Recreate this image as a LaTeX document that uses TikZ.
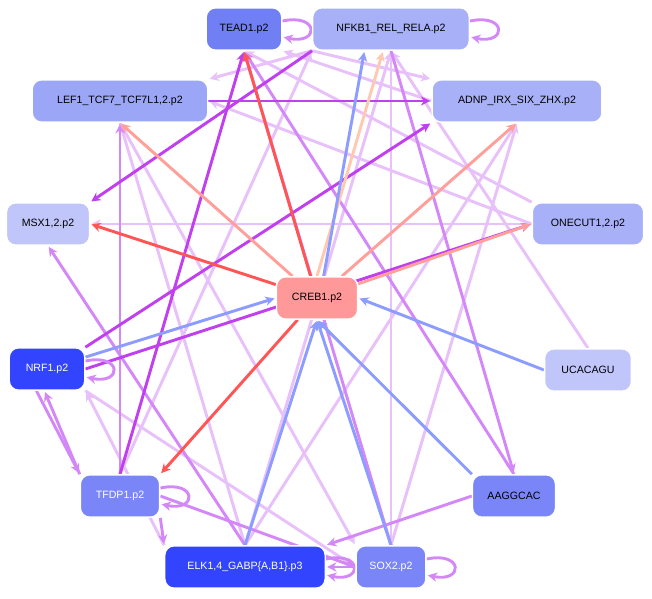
\documentclass[tikz,border=0pt]{standalone}
\usepackage{fontspec}
\setmainfont{Liberation Sans}
\usetikzlibrary{arrows.meta,backgrounds}
\definecolor{nA}{HTML}{7080F4}
\definecolor{nB}{HTML}{A8B0F8}
\definecolor{nC}{HTML}{9CA6F6}
\definecolor{nD}{HTML}{C0C6FA}
\definecolor{nE}{HTML}{3344FF}
\definecolor{nF}{HTML}{7A86F8}
\definecolor{nR}{HTML}{FF9999}
\definecolor{eP}{HTML}{C040F0}
\definecolor{eM}{HTML}{D488F8}
\definecolor{eL}{HTML}{E8C0FA}
\definecolor{eR}{HTML}{FF5555}
\definecolor{eS}{HTML}{FF9F99}
\definecolor{eB}{HTML}{8C9CFF}
\definecolor{eK}{HTML}{FFC8B0}
\begin{document}
\begin{tikzpicture}[x=0.0265cm,y=-0.0265cm,
 n/.style={draw=white,line width=1pt,rounded corners=7pt,minimum height=1.12cm,font=\fontsize{8}{9}\selectfont,inner sep=2pt},
 e/.style={line width=2.2pt,-{Stealth[length=7pt,width=7pt]},shorten >=1pt},
 P/.style={e,eP},M/.style={e,eM},L/.style={e,eL},R/.style={e,eR},S/.style={e,eS},B/.style={e,eB},K/.style={e,eK},
 sl/.style={M,looseness=1.6}]
\useasboundingbox (0,0) rectangle (652,599);
\node[n,fill=nA,minimum width=2cm] (TEAD) at (244,29) {TEAD1.p2};
\node[n,fill=nB,minimum width=4.15cm] (NFKB) at (391,29) {NFKB1\_REL\_RELA.p2};
\node[n,fill=nC,minimum width=4.65cm] (LEF) at (120,101) {LEF1\_TCF7\_TCF7L1,2.p2};
\node[n,fill=nB,minimum width=4.5cm] (ADNP) at (517,101) {ADNP\_IRX\_SIX\_ZHX.p2};
\node[n,fill=nD,minimum width=2.2cm] (MSX) at (48,224) {MSX1,2.p2};
\node[n,fill=nB,minimum width=2.95cm] (ONEC) at (588,224) {ONECUT1,2.p2};
\node[n,fill=nR,minimum width=2.15cm] (CREB) at (317,298) {CREB1.p2};
\node[n,fill=nE,text=white,minimum width=2cm] (NRF) at (47,369) {NRF1.p2};
\node[n,fill=nD,minimum width=2.3cm] (UCAC) at (588,370) {UCACAGU};
\node[n,fill=nF,text=white,minimum width=2.1cm] (TFDP) at (120,496) {TFDP1.p2};
\node[n,fill=nF,minimum width=2.2cm] (AAGG) at (514,496) {AAGGCAC};
\node[n,fill=nE,text=white,minimum width=4.25cm] (ELK) at (245,567) {ELK1,4\_GABP\{A,B1\}.p3};
\node[n,fill=nF,text=white,minimum width=1.85cm] (SOX) at (391,567) {SOX2.p2};
\begin{scope}[on background layer]
% light
\draw[L] (NFKB) -- (LEF.north east);
\draw[L] (ONEC.west) -- (LEF.east);
\draw[L] (ONEC.north west) -- (TEAD.south);
\draw[L] (ADNP.west) -- (TEAD.south east);
\draw[L] (NFKB.south west) -- (ADNP.north west);
\draw[L] (ELK.north) -- (NFKB.south);
\draw[L] (SOX.north) -- (NFKB.south);
\draw[L] (ELK.north) -- (ADNP.south);
\draw[L] (SOX.north) -- (ADNP.south);
\draw[L] (TFDP.north) -- (NFKB.south west);
\draw[L] (UCAC.north) -- (NFKB.south);
\draw[L] (NRF.south east) -- (SOX.west);
\draw[L] (LEF.south) -- (SOX.north west);
\draw[L] (ELK.north) -- (LEF.south);
\draw[L] (ELK.north west) -- (NRF.south east);
\draw[L] (ONEC.west) -- (MSX.east);
% medium
\draw[M] (TFDP.north) -- (LEF.south);
\draw[M] (SOX.north) -- (TEAD.south);
\draw[M] (AAGG.north) -- (TEAD.south);
\draw[M] (ELK.north) -- (MSX.south);
\draw[M] ([xshift=-8pt]NRF.south) -- (TFDP.north west);
\draw[M] (TFDP.north west) -- ([xshift=-2pt]NRF.south);
\draw[M] (AAGG.west) -- (ELK.north east);
\draw[M] (TFDP.east) -- (SOX.west);
\draw[M] (SOX.west) -- (ELK.east);
\draw[M] (TFDP.south east) -- (ELK.north west);
\draw[M] (NFKB.south) -- (AAGG.north);
% purple
\draw[P] (TFDP.north) -- (TEAD.south);
\draw[P] (NRF.east) -- (ONEC.west);
\draw[P] (LEF.east) -- (ADNP.west);
\draw[P] (NFKB.south west) -- (MSX.north east);
\draw[P] (NRF.north east) -- (ADNP.south west);
% red / salmon
\draw[R] (CREB) -- (TEAD.south);
\draw[R] (CREB) -- (MSX.east);
\draw[R] (CREB) -- (TFDP.north east);
\draw[S] (CREB) -- (LEF.south);
\draw[S] (CREB) -- (ADNP.south);
\draw[S] (CREB) -- (ONEC.west);
\draw[K] (CREB.north) -- ([xshift=-6pt]NFKB.south);
% blue
\draw[B] (NRF) -- (CREB.west);
\draw[B] (UCAC.west) -- (CREB.east);
\draw[B] (AAGG.north west) -- (CREB.south);
\draw[B] (SOX.north) -- (CREB.south);
\draw[B] (ELK.north) -- (CREB.south);
\draw[B] ([xshift=5pt]CREB.north) -- ([xshift=-20pt]NFKB.south);
% self loops
\foreach \nd in {TEAD,NFKB,NRF,TFDP,ELK,SOX}{
 \draw[sl] ([yshift=6pt]\nd.east) .. controls ++(28pt,6pt) and ++(28pt,-6pt) .. ([yshift=-6pt]\nd.east);
}
\end{scope}
\end{tikzpicture}
\end{document}
